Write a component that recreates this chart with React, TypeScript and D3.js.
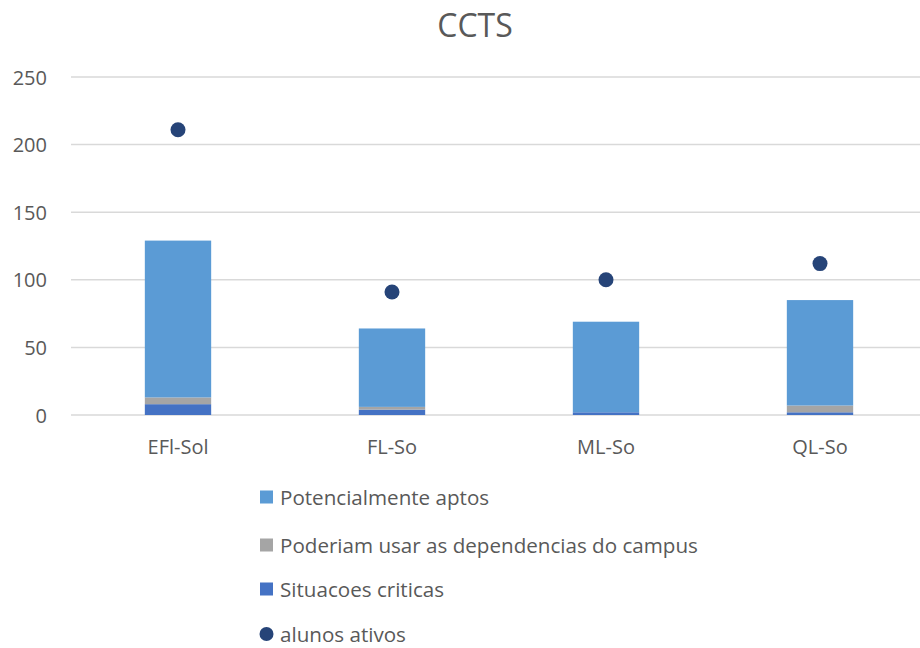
import React from "react";
import * as d3 from "d3";

const categories = ["EFl-Sol", "FL-So", "ML-So", "QL-So"];
const criticas = [8, 4, 2, 2];
const dependencias = [5, 2, 0, 5];
const aptos = [116, 58, 67, 78];
const ativos = [211, 91, 100, 112];
const yTicks = [0, 50, 100, 150, 200, 250];

const seriesColors = ["#4472c4", "#a5a5a5", "#5b9bd5"];
const dotColor = "#264478";
const font = "'Open Sans', sans-serif";

export default function App() {
  const W = 920, H = 648;
  const x = d3.scaleBand<string>().domain(categories).range([71, 927]).padding(0);
  const y = d3.scaleLinear().domain([0, 250]).range([415, 77]);
  const barW = x.bandwidth() * 0.31;

  const table = categories.map((c, i) => ({ cat: c, s0: criticas[i], s1: dependencias[i], s2: aptos[i] }));
  const stack = d3.stack<any>().keys(["s0", "s1", "s2"])(table);

  const legend = [
    { name: "Potencialmente aptos", color: seriesColors[2], type: "rect" },
    { name: "Poderiam usar as dependencias do campus", color: seriesColors[1], type: "rect" },
    { name: "Situacoes criticas", color: seriesColors[0], type: "rect" },
    { name: "alunos ativos", color: dotColor, type: "dot" },
  ];
  const legendY = [497, 545, 589, 634];

  return (
    <svg width={W} height={H} style={{ position: "absolute", left: 0, top: 0, background: "#fff" }} fontFamily={font}>
      <rect width={W} height={H} fill="#fff" />
      <text x={475} y={24} textAnchor="middle" dominantBaseline="central" fontSize={32} fill="#595959">CCTS</text>
      {yTicks.map((t) => (
        <g key={t}>
          <line x1={71} x2={920} y1={y(t)} y2={y(t)} stroke="#d9d9d9" strokeWidth={1.5} />
          <text x={47} y={y(t)} textAnchor="end" dominantBaseline="central" fontSize={20} fill="#595959">{t}</text>
        </g>
      ))}
      {stack.map((layer, si) => (
        <g key={si} fill={seriesColors[si]}>
          {layer.map((d, i) => {
            const h = y(d[0]) - y(d[1]);
            if (h <= 0) return null;
            return (
              <rect key={i} x={(x(categories[i]) as number) + x.bandwidth() / 2 - barW / 2} y={y(d[1])} width={barW} height={h} />
            );
          })}
        </g>
      ))}
      {categories.map((c, i) => (
        <circle key={c} cx={(x(c) as number) + x.bandwidth() / 2} cy={y(ativos[i])} r={7.5} fill={dotColor} />
      ))}
      {categories.map((c) => (
        <text key={c} x={(x(c) as number) + x.bandwidth() / 2} y={446} textAnchor="middle" dominantBaseline="central" fontSize={20} fill="#595959">{c}</text>
      ))}
      {legend.map((l, i) => (
        <g key={l.name}>
          {l.type === "rect" ? (
            <rect x={260} y={legendY[i] - 6.5} width={13} height={13} fill={l.color} />
          ) : (
            <circle cx={266.5} cy={legendY[i]} r={7} fill={l.color} />
          )}
          <text x={280} y={legendY[i]} dominantBaseline="central" fontSize={20.6} fill="#595959">{l.name}</text>
        </g>
      ))}
    </svg>
  );
}
